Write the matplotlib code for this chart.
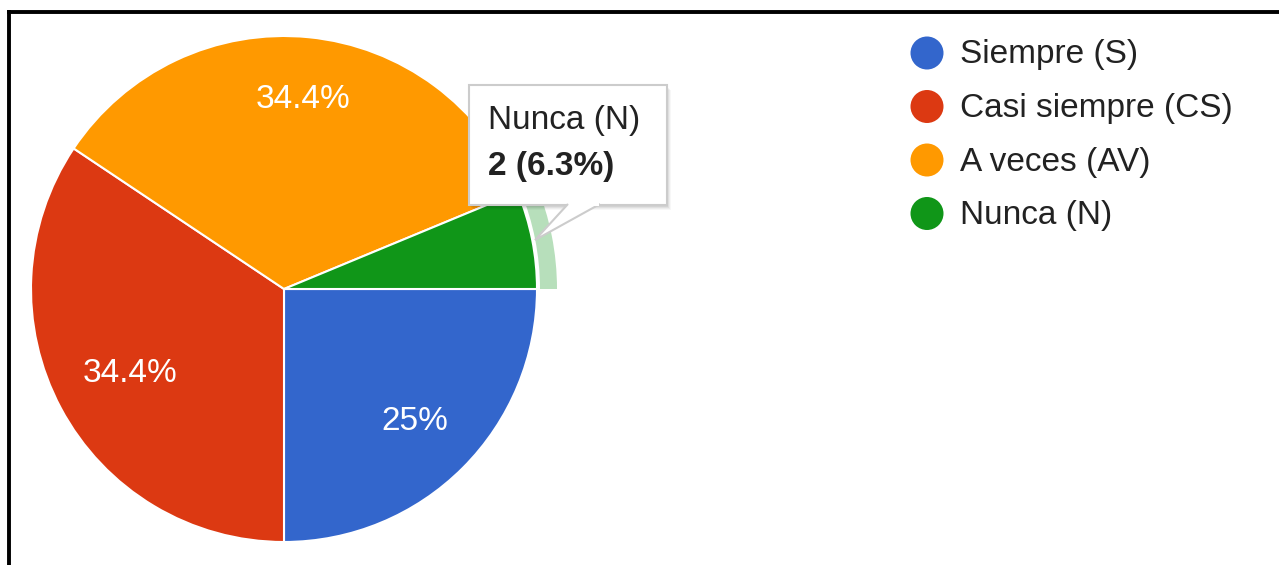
import matplotlib.pyplot as plt
import matplotlib.patches as mpatches
import numpy as np
from decimal import Decimal, ROUND_HALF_UP

plt.rcParams['font.family'] = ['Liberation Sans', 'DejaVu Sans']

labels = ["Siempre (S)", "Casi siempre (CS)", "A veces (AV)", "Nunca (N)"]
counts = [8, 11, 11, 2]
colors = ["#3366cc", "#dc3912", "#ff9900", "#109618"]
hover_idx = 3

W, H = 1279, 565
fig = plt.figure(figsize=(W / 100, H / 100), dpi=100)
ax = fig.add_axes([0, 0, 1, 1])

cx, cy, R = 284, H - 289, 253
total = sum(counts)


def pct_str(p):
    s = str(Decimal(str(p)).quantize(Decimal("0.1"), rounding=ROUND_HALF_UP))
    return (s[:-2] if s.endswith(".0") else s) + "%"


def fmt_pct(p):
    return "" if p < 10 else pct_str(p)


wedges, _, autotexts = ax.pie(
    counts, colors=colors, startangle=0, counterclock=False,
    center=(cx, cy), radius=R, autopct=fmt_pct, pctdistance=0.73,
    wedgeprops=dict(edgecolor="white", linewidth=1.5),
    textprops=dict(color="white", fontsize=24))

# label distance per slice, the way the original tool places them
label_dist = [0.73, 0.69, 0.76, 0.73]
for w, t, d in zip(wedges, autotexts, label_dist):
    a = np.deg2rad((w.theta1 + w.theta2) / 2)
    t.set_position((cx + d * R * np.cos(a), cy + d * R * np.sin(a) - 2))

# hover ring around the highlighted slice
w = wedges[hover_idx]
ring = mpatches.Wedge((cx, cy), R + 20, w.theta1, w.theta2, width=17,
                      facecolor="#b7dfbb", edgecolor="none")
ax.add_patch(ring)

# tooltip
bx0, by0, bx1, by1 = 469, H - 205, 667, H - 85
for k, a in enumerate([0.06, 0.05, 0.04, 0.03]):
    ax.add_patch(mpatches.Rectangle((bx0 + 1 + k, by0 - 2 - k), bx1 - bx0, by1 - by0,
                                    facecolor="black", alpha=a, edgecolor="none"))
ax.add_patch(mpatches.Rectangle((bx0, by0), bx1 - bx0, by1 - by0,
                                facecolor="white", edgecolor="#cccccc", linewidth=1.5))
ax.add_patch(mpatches.Polygon([(568, by0 + 1), (535, H - 240), (600, by0 + 1)],
                              closed=False, facecolor="white", edgecolor="#cccccc",
                              linewidth=1.5))
ax.add_patch(mpatches.Rectangle((569, by0 - 1), 30, 3, facecolor="white",
                                edgecolor="none"))
pct = counts[hover_idx] / total * 100
ax.text(488, H - 121, labels[hover_idx], fontsize=24, color="#222222",
        ha="left", va="center")
ax.text(488, H - 166, f"{counts[hover_idx]} ({pct_str(pct)})", fontsize=24,
        fontweight="bold", color="#222222", ha="left", va="center")

# legend
for i, (lab, col) in enumerate(zip(labels, colors)):
    y = H - (53 + i * 53.5)
    ax.add_patch(mpatches.Circle((927, y), 16.5, facecolor=col, edgecolor="none"))
    ax.text(960, y - 2, lab, fontsize=24, color="#222222", ha="left", va="center")

# frame of the screenshot
ax.plot([7, W], [H - 11.5, H - 11.5], color="black", linewidth=2.8,
        solid_capstyle="butt")
ax.plot([8.5, 8.5], [0, H - 10], color="black", linewidth=2.8,
        solid_capstyle="butt")

ax.set_xlim(0, W)
ax.set_ylim(0, H)
ax.set_aspect("equal")
ax.axis("off")

fig.savefig("out.png", dpi=100, facecolor="white")
